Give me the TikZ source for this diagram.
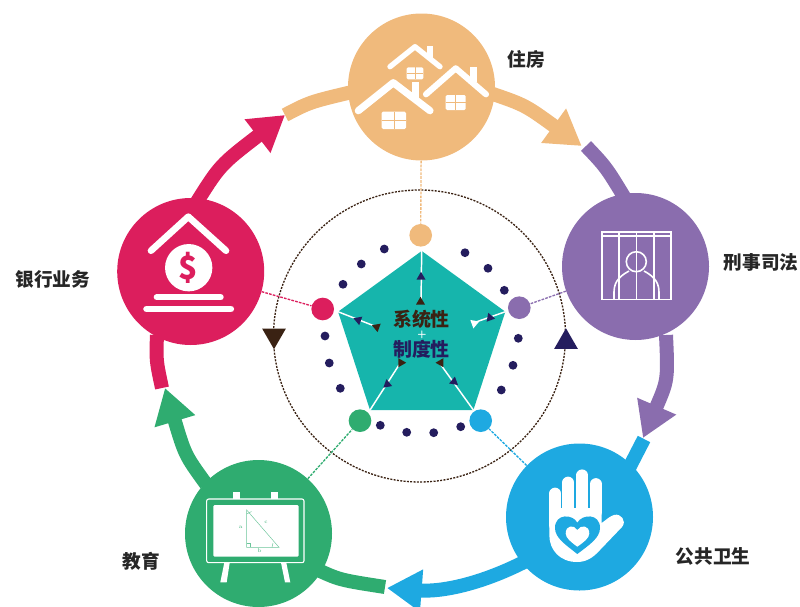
\documentclass[tikz,border=0pt]{standalone}
\usepackage{fontspec}
\newfontfamily\cjk{Noto Sans CJK SC}
\usetikzlibrary{arrows.meta,shapes.geometric}
\definecolor{cream}{HTML}{F0BA7C}
\definecolor{violet}{HTML}{8A6DAE}
\definecolor{sky}{HTML}{1EA9E1}
\definecolor{leaf}{HTML}{2FAC70}
\definecolor{rose}{HTML}{DC1E5D}
\definecolor{teal}{HTML}{16B5AC}
\definecolor{navy}{HTML}{241D5E}
\definecolor{umber}{HTML}{3A2213}
\tikzset{
  sector/.style={circle,fill=#1,minimum size=110.25pt,inner sep=0pt},
  hub/.style={circle,fill=#1,minimum size=17pt,inner sep=0pt},
  bead/.style={circle,fill=navy,minimum size=6.6pt,inner sep=0pt},
  band/.style={draw=#1,line width=10.5pt},
  bandhead/.style={band=#1,-{Triangle[length=26pt,width=30pt]}},
  link/.style={draw=#1,dashed,dash pattern=on 2pt off .9pt,line width=1pt},
  spoke/.style={draw=white,line width=1.1pt},
  tick/.style={regular polygon,regular polygon sides=3,fill=#1,minimum size=7.8pt,inner sep=0pt},
  marker/.style={regular polygon,regular polygon sides=3,fill=#1,minimum size=20.5pt,inner sep=0pt},
  caption/.style={font=\cjk\bfseries\fontsize{14}{15}\selectfont,text=black!85},
  corelabel/.style={font=\cjk\bfseries\fontsize{14.2}{15}\selectfont,text=#1,inner sep=0pt},
  roof/.style={draw=white,line cap=round,line join=round},
  finger/.style={draw=white,line cap=round,line width=8.8pt},
}
\newcommand{\winpane}[4]{% x1,y1,x2,y2
  \fill[white,rounded corners=1pt] (#1,#2) rectangle (#3,#4);
  \draw[cream,line width=.5pt] ({(#1+#3)/2},#2) -- ({(#1+#3)/2},#4);
  \draw[cream,line width=.5pt] (#1,{(#2+#4)/2}) -- (#3,{(#2+#4)/2});
}
\begin{document}
\begin{tikzpicture}[x=.75pt,y=-.75pt]
  \useasboundingbox (0,0) rectangle (800,607);

  % the ring
  \coordinate (cream1) at (490,93);
  \coordinate (cream2) at (581.7,146);
  \coordinate (violet1) at (586,146);
  \coordinate (violet2) at (626,200);
  \coordinate (violet3) at (666,335);
  \coordinate (violet4) at (643,438);
  \coordinate (sky1) at (644,439);
  \coordinate (sky2) at (628,470);
  \coordinate (sky3) at (528,560);
  \coordinate (sky4) at (387,588);
  \coordinate (leaf1) at (318,570);
  \coordinate (leaf2) at (385,587);
  \coordinate (leaf3) at (206,484);
  \coordinate (leaf4) at (165,388);
  \coordinate (rose1) at (157,335);
  \coordinate (rose2) at (162,388);
  \coordinate (rose3) at (195,205);
  \coordinate (rose4) at (285,115);
  \coordinate (cream3) at (285,115);
  \coordinate (cream4) at (352,92);

  \draw[bandhead=cream] (cream1) .. controls (525,105) .. (cream2);
  \draw[band=violet] (violet1) .. controls (606,167) .. (violet2);
  \draw[bandhead=violet] (violet3) .. controls (668,380) .. (violet4);
  \draw[band=sky] (sky1) -- (sky2);
  \draw[bandhead=sky] (sky3) .. controls (480,585) and (440,592) .. (sky4);
  \draw[band=leaf] (leaf1) .. controls (340,580) .. (leaf2);
  \draw[bandhead=leaf] (leaf3) .. controls (185,455) .. (leaf4);
  \draw[band=rose] (rose1) .. controls (156,360) .. (rose2);
  \draw[bandhead=rose] (rose3) .. controls (220,165) .. (rose4);
  \draw[band=cream] (cream3) .. controls (310,102) .. (cream4);

  % the dashed circle
  \draw[umber,dashed,dash pattern=on 1.5pt off 1pt,line width=1pt] (419.5,336) circle [radius=146];

  % the sectors
  \node[sector=cream] (housing) at (421.5,87) {};
  \node[sector=violet] (justice) at (635.5,266.5) {};
  \node[sector=sky] (health) at (579.5,517) {};
  \node[sector=leaf] (school) at (258.5,533.5) {};
  \node[sector=rose] (bank) at (190.7,271.5) {};

  \node[caption] (housinglabel) at (526.5,59) {住房};
  \node[caption] (justicelabel) at (761,262) {刑事司法};
  \node[caption] (healthlabel) at (713,556) {公共卫生};
  \node[caption] (schoollabel) at (141,561) {教育};
  \node[caption] (banklabel) at (53,279) {银行业务};

  \node[marker=umber,rotate=180] (downmark) at (274,335.5) {};
  \node[marker=navy] (upmark) at (566,342) {};

  % the core
  \node[regular polygon,regular polygon sides=5,fill=teal,minimum size=131.9pt,inner sep=0pt] (core) at (421.7,338.9) {};

  \node[hub=cream] (housinghub) at (420.7,235.3) {};
  \node[hub=violet] (justicehub) at (519.3,307.7) {};
  \node[hub=sky] (healthhub) at (480.7,420.7) {};
  \node[hub=leaf] (schoolhub) at (360,420.7) {};
  \node[hub=rose] (bankhub) at (322.7,309) {};

  \draw[link=cream] (housing) -- (housinghub);
  \draw[link=violet] (justice) -- (justicehub);
  \draw[link=sky] (health) -- (healthhub);
  \draw[link=leaf] (school) -- (schoolhub);
  \draw[link=rose] (bank) -- (bankhub);

  \foreach \px/\py [count=\i] in {384.3/249,361.3/264,343/284.3,465/252.7,488/268.3,504.3/290.3,
      518.3/338.3,513/365.3,501.3/390,460.7/426.7,433.7/432.7,406.7/432.3,380.3/425.3,
      340.3/388.3,329.3/363,325/336}
    \node[bead] (bead\i) at (\px,\py) {};

  % the spokes
  \coordinate (spoke1) at (421,303);
  \coordinate (spoke2) at (377,327);
  \coordinate (spoke3) at (399,365);
  \coordinate (spoke4) at (441,365);
  \coordinate (spoke5) at (476,322);
  \foreach \k in {1,...,5}
    \draw[spoke] (core.corner \k) -- (spoke\k);

  \node[tick=navy] (tick1) at (421,277) {};
  \node[tick=umber] (tick1b) at (420.5,302) {};
  \node[tick=navy,rotate=190] (tick2) at (358.3,320) {};
  \node[tick=umber,rotate=190] (tick2b) at (376.7,327) {};
  \node[tick=navy,rotate=10] (tick3) at (387.3,384.3) {};
  \node[tick=umber,rotate=-90] (tick3b) at (401,362.7) {};
  \node[tick=navy,rotate=-10] (tick4) at (454,381.7) {};
  \node[tick=umber,rotate=90] (tick4b) at (440.7,362.7) {};
  \node[tick=navy,rotate=-100] (tick5) at (490,317.7) {};
  \node[tick=white,rotate=170] (tick5b) at (474.3,323.3) {};

  \node[corelabel=umber] (corea) at (421.5,319) {系统性};
  \node[corelabel=navy] (corec) at (421.5,349) {制度性};
  \node[corelabel=white,font=\sffamily\bfseries\fontsize{8}{8}\selectfont] (coreb) at (422,334.5) {+};

  % housing icon
  \draw[roof,line width=4pt] (390,66.7) -- (415,46.7) -- (440,66.7);
  \fill[white] (427.3,45.7) rectangle (432.7,60);
  \winpane{406.7}{67.3}{423.3}{79.3}
  \draw[roof,line width=4.6pt] (426,94.3) -- (455.7,68.3) -- (486,94.3);
  \fill[white] (470,67.3) rectangle (477.3,82);
  \winpane{445.7}{95}{465.7}{110}
  \draw[roof,line width=5.4pt] (358.3,110.7) -- (393.3,82.7) -- (430,110.7);
  \fill[white] (411.7,81.7) rectangle (419.3,98.3);
  \winpane{381.7}{111.7}{406}{129}

  % jail icon
  \begin{scope}[white,line width=1.2pt]
    \draw (601.7,231.7) rectangle (671,299.3);
    \draw (601.7,236) -- (671,236);
    \foreach \barx in {619,636.3,653.7}
      \draw (\barx,231.7) -- (\barx,299.3);
    \draw (636.3,261.7) circle [radius=10];
    \draw (614,299.3) -- (614,292) .. controls (614,280) and (622,275) .. (629,271);
    \draw (659,299.3) -- (659,292) .. controls (659,280) and (651,275) .. (644,271);
  \end{scope}

  % hand icon
  \draw[finger] (555.2,493.5) -- (555.2,525);
  \draw[finger] (568.2,482.5) -- (568.2,512);
  \draw[finger] (582.2,475.3) -- (582.2,512);
  \draw[finger] (595.8,484) -- (595.8,512);
  \fill[white] (549.3,508) -- (601.7,508) -- (601.7,523) .. controls (606,520) and (610,516) .. (614,515)
     .. controls (621,513) and (627,521) .. (622,527) -- (600,550) .. controls (592,559) and (585,562) .. (577,562)
     .. controls (560,562) and (549.3,550) .. (549.3,535) -- cycle;
  \fill[sky] (577.3,554) .. controls (566,545) and (555,538) .. (555,528) .. controls (555,513) and (573,514) .. (577.3,522.7)
     .. controls (582,514) and (600,513) .. (600,528) .. controls (600,538) and (589,545) .. (577.3,554) -- cycle;
  \fill[white] (577.3,546.7) .. controls (571,542) and (565.7,538) .. (565.7,533.5) .. controls (565.7,525) and (574,524.5) .. (577.3,530)
     .. controls (581,524.5) and (589.3,525) .. (589.3,533.5) .. controls (589.3,538) and (584,542) .. (577.3,546.7) -- cycle;

  % board icon
  \fill[white] (233,492.3) rectangle (240,499);
  \fill[white] (271,492.3) rectangle (277.7,499);
  \fill[white] (224.3,562.7) -- (229.7,562.7) -- (226.7,582.3) -- (220.3,582.3) -- cycle;
  \fill[white] (281,562.7) -- (286.3,562.7) -- (290.3,582.3) -- (285,582.3) -- cycle;
  \draw[white,line width=.8pt,rounded corners=1.5pt] (206.7,499) rectangle (304,562.7);
  \fill[white,rounded corners=1pt] (213.3,505) rectangle (298.7,556.7);
  \begin{scope}[leaf!70,line width=.35pt]
    \draw (246.7,510) -- (246.7,547.3) -- (279,547.3) -- cycle;
    \draw (246.7,543.3) -- (250.7,543.3) -- (250.7,547.3);
    \draw (246.7,514) -- (251.5,511.5);
    \draw (272,547.3) -- (273,543);
    \node[text=leaf,font=\fontsize{4}{4}\selectfont,inner sep=0pt] (sidea) at (240.7,527.7) {a};
    \node[text=leaf,font=\fontsize{4}{4}\selectfont,inner sep=0pt] (sidec) at (266,522.7) {c};
    \node[text=leaf,font=\fontsize{4}{4}\selectfont,inner sep=0pt] (sideb) at (259.7,550.7) {b};
  \end{scope}

  % bank icon
  \draw[roof,line width=5pt] (151,250.7) -- (188.3,216.7) -- (226,250.7);
  \node[circle,fill=white,minimum size=35.5pt,inner sep=0pt,text=rose,font=\cjk\bfseries\fontsize{24}{24}\selectfont] (coin) at (188.7,267.7) {\$};
  \draw[roof,line width=4.5pt] (156.7,297.3) -- (220.7,297.3);
  \draw[roof,line width=5.2pt] (146.7,309) -- (230.7,309);
\end{tikzpicture}
\end{document}
